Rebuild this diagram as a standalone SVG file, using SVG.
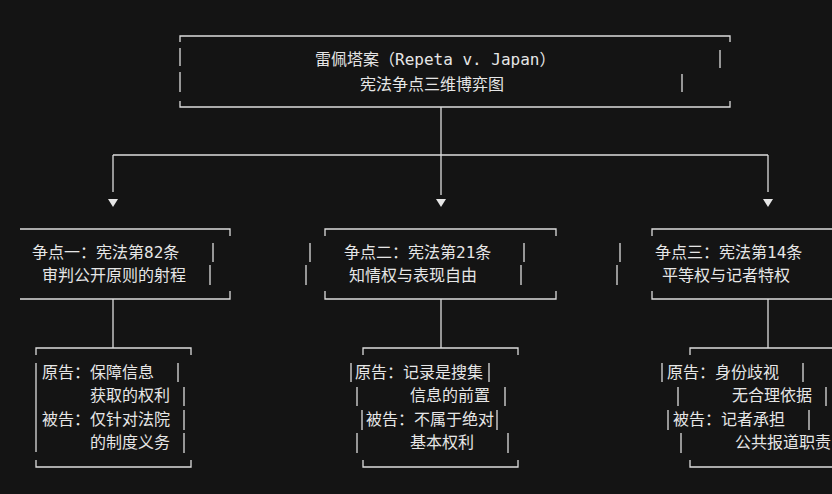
<svg xmlns="http://www.w3.org/2000/svg" width="832" height="494" viewBox="0 0 832 494">
<style>
text{font-family:"DejaVu Sans Mono","Noto Sans CJK SC",monospace;font-size:16px;fill:#e6e6e6;dominant-baseline:middle}
path{stroke:#dcdcdc;stroke-width:1.3;fill:none}
.ar{fill:#e6e6e6;stroke:none}
</style>
<rect width="832" height="494" fill="#141414"/>
<g id="connectors">
<path d="M441 107V195M113 155H768M113 155V192M768 155V192M113 299V348M441 299V348M768 299V348"/>
<path class="ar" d="M108 199h10l-5 8zM436 199h10l-5 8zM763 199h10l-5 8z"/>
</g>
<g id="title">
<path d="M180 42V36H730V42M180 101V107H730V101M180 48V66M180 72V92M720 50V68M682 74V92"/>
<text x="315" y="60">雷佩塔案（Repeta v. Japan）</text>
<text x="360" y="85">宪法争点三维博弈图</text>
</g>
<g id="issue1">
<path d="M20 229H230V236M230 291V299H20M213 243V262M210 265V285"/>
<text x="32" y="253">争点一：宪法第82条</text>
<text x="42" y="276">审判公开原则的射程</text>
</g>
<g id="issue2">
<path d="M325 236V229H556V236M325 291V299H556V291M310 243V262M306 265V285M524 243V262M521 265V285"/>
<text x="344" y="253">争点二：宪法第21条</text>
<text x="349" y="276">知情权与表现自由</text>
</g>
<g id="issue3">
<path d="M652 236V229H832M652 291V299H832M620 243V262M617 265V285"/>
<text x="655" y="253">争点三：宪法第14条</text>
<text x="662" y="276">平等权与记者特权</text>
</g>
<g id="args1">
<path d="M36 355V348H191V355M36 460V467H191V460M36 363V452M178 363V382M184 387V406M184 410V430M184 433V453"/>
<text x="42" y="373">原告：保障信息</text>
<text x="90" y="396">获取的权利</text>
<text x="42" y="420">被告：仅针对法院</text>
<text x="90" y="443">的制度义务</text>
</g>
<g id="args2">
<path d="M363 355V348H518V355M363 460V467H518V460M351 363V382M357 387V406M362 410V430M357 433V453M489 363V382M505 387V406M497 410V430M508 433V453"/>
<text x="355" y="373">原告：记录是搜集</text>
<text x="410" y="396">信息的前置</text>
<text x="366" y="420">被告：不属于绝对</text>
<text x="410" y="443">基本权利</text>
</g>
<g id="args3">
<path d="M690 355V348H832M690 460V467H832M662 363V382M678 387V406M668 410V430M681 433V453M803 363V382M826 387V406M809 410V430"/>
<text x="667" y="373">原告：身份歧视</text>
<text x="732" y="396">无合理依据</text>
<text x="673" y="420">被告：记者承担</text>
<text x="735" y="443">公共报道职责</text>
</g>
</svg>
